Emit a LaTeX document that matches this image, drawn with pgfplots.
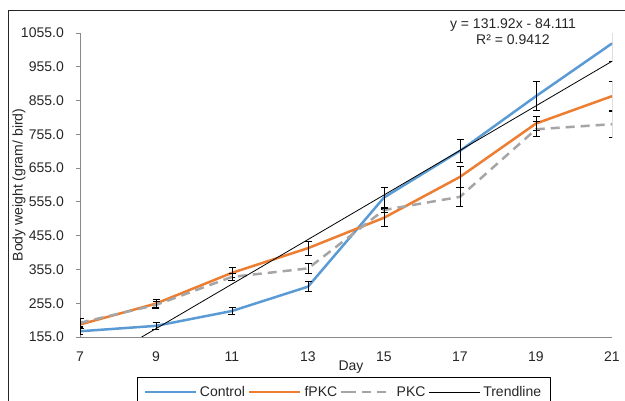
\documentclass[border=0pt]{standalone}
\usepackage{fontspec}
\setmainfont{Liberation Sans}
\usepackage{pgfplots}
\usepackage{pgfplotstable}
\pgfplotsset{compat=1.18}
\definecolor{cblue}{HTML}{5B9BD5}
\definecolor{corange}{HTML}{ED7D31}
\definecolor{cgray}{HTML}{A5A5A5}
\definecolor{axgray}{HTML}{898989}
\definecolor{txt}{HTML}{262626}

\pgfplotstableread{
d v e
7 172 8
9 188 10
11 232 11
13 304 15
15 568 30
17 706 35
19 868 43
21 1024 54
}\control
\pgfplotstableread{
d v e
7 192 10
9 254 12
11 345 15
13 418 20
15 508 25
17 629 30
19 787 20
21 868 45
}\fpkc
\pgfplotstableread{
d v e
7 197 12
9 250 10
11 333 10
13 358 16
15 531 6
17 570 27
19 770 22
21 785 40
}\pkc

\begin{document}
\begin{tikzpicture}[font=\fontsize{14}{16.8}\selectfont]
\draw[line width=1pt, draw=black!85] (8pt,-40pt) rectangle (720pt,390pt);
\begin{axis}[
  at={(80pt,64pt)}, anchor=south west,
  scale only axis, width=532pt, height=304pt,
  xmin=7, xmax=21, ymin=155, ymax=1055,
  axis x line*=bottom, axis y line*=left,
  axis line style={-, draw=axgray, line width=0.8pt},
  x axis line style={-}, y axis line style={-},
  xtick={7,9,...,21}, ytick={155,255,...,1055},
  xtick style={draw=none},
  ytick style={draw=axgray, line width=0.8pt},
  tick align=outside, major tick length=4pt,
  /pgf/number format/assume math mode=true,
  scaled y ticks=false,
  yticklabel style={anchor=east, inner sep=0pt, xshift=-12pt, text=txt,
    /pgf/number format/.cd, fixed, fixed zerofill, precision=1, 1000 sep={}},
  xticklabel style={anchor=base, inner sep=0pt, yshift=-21pt, text=txt},
  xlabel={Day},
  xlabel style={at={(axis description cs:0.5,0)}, anchor=base, yshift=-34pt, xshift=5pt, text=txt},
  legend columns=4,
  legend image code/.code={\path (0pt,0pt) -- (6pt,0pt); \draw[#1] (6pt,0pt) -- (51pt,0pt);},
  legend style={at={(axis description cs:0.10714,-0.1316)}, anchor=north west,
    draw=black, line width=0.8pt, inner xsep=6pt, inner ysep=7pt,
    nodes={inner xsep=3pt, inner ysep=2pt, text=txt},
    font=\fontsize{14}{16.8}\selectfont},
  line join=round,
]
\addplot[cblue, line width=2.5pt,
  error bars/.cd, y dir=both, y explicit,
  error bar style={black, line width=0.8pt, solid},
  error mark options={black, rotate=90, mark size=3.5pt, line width=0.8pt, solid}]
  table[x=d, y=v, y error=e] {\control};
\addlegendentry{Control}
\addplot[corange, line width=2.5pt,
  error bars/.cd, y dir=both, y explicit,
  error bar style={black, line width=0.8pt, solid},
  error mark options={black, rotate=90, mark size=3.5pt, line width=0.8pt, solid}]
  table[x=d, y=v, y error=e] {\fpkc};
\addlegendentry{fPKC}
\addplot[cgray, line width=2.5pt, dash pattern=on 9pt off 6pt,
  error bars/.cd, y dir=both, y explicit,
  error bar style={black, line width=0.8pt, solid},
  error mark options={black, rotate=90, mark size=3.5pt, line width=0.8pt, solid}]
  table[x=d, y=v, y error=e] {\pkc};
\addlegendentry{PKC}
\addplot[black, line width=0.8pt] coordinates {(7,47.809) (21,971.249)};
\addlegendentry{Trendline}
\end{axis}
\node[rotate=90, text=txt] at (19pt,216pt) {Body weight (gram/ bird)};
\node[text=txt] at (513pt,376pt) {y = 131.92x - 84.111};
\node[text=txt] at (513pt,361pt) {R² = 0.9412};
\pgfresetboundingbox
\useasboundingbox (0pt,0pt) rectangle (625pt,401pt);
\end{tikzpicture}
\end{document}
